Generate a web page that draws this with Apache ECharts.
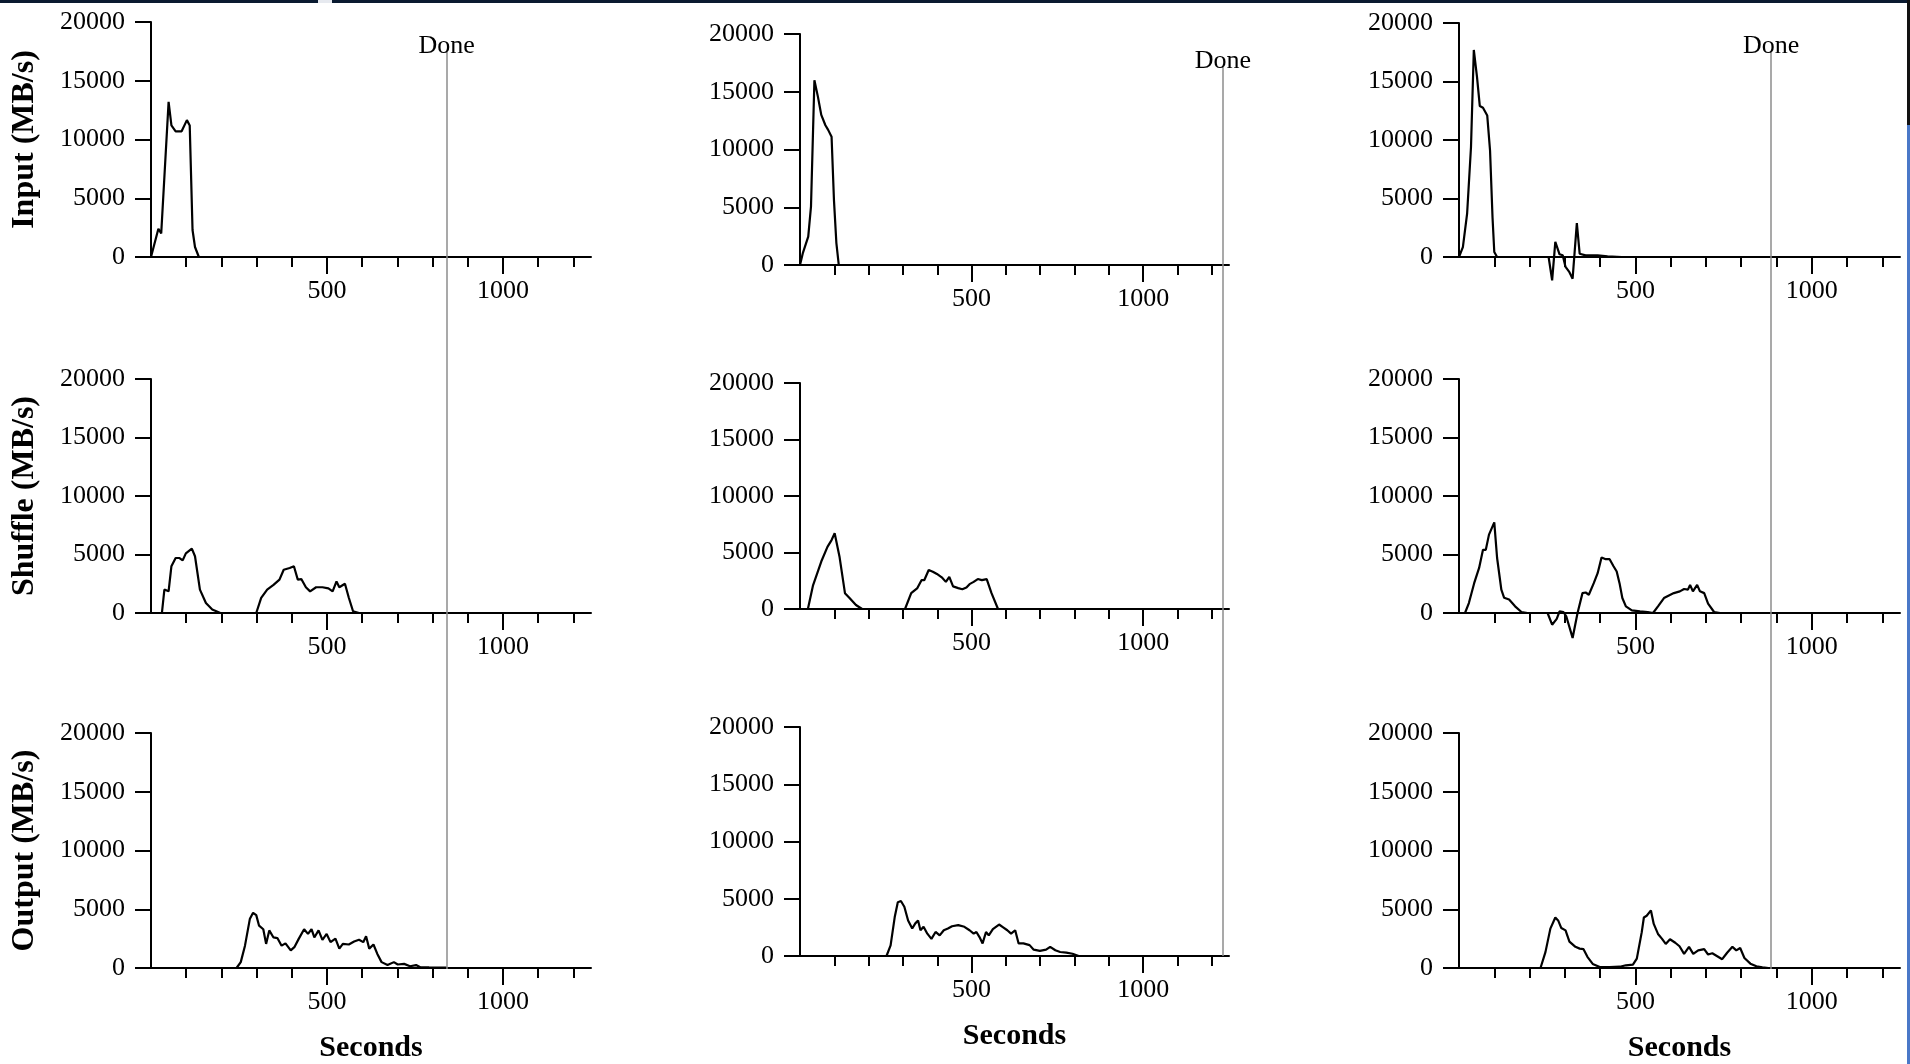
<!DOCTYPE html>
<html>
<head>
<meta charset="utf-8">
<title>Data transfer rates</title>
<script src="https://cdn.jsdelivr.net/npm/echarts@6/dist/echarts.min.js"></script>
<style>
html, body { margin: 0; padding: 0; background: #fff; }
#main { width: 1910px; height: 1064px; }
</style>
</head>
<body>
<div id="main"></div>
<script>
// seconds / MB/s pairs
var inputNormal = [[0,0],[21,2400],[29,2000],[50,13200],[58,11200],[70,10700],[87,10700],[102,11650],[110,11200],[118,2300],[125,850],[136,0],[840,0]];
var shuffleNormal = [[0,0],[31,0],[38,2000],[50,1850],[58,4000],[70,4700],[81,4700],[90,4500],[99,5100],[116,5500],[125,4850],[139,2000],[156,850],[174,300],[197,0],[299,0],[313,1300],[330,2000],[348,2400],[365,2850],[377,3700],[394,3850],[406,4000],[417,2850],[427,2900],[440,2200],[452,1850],[469,2200],[487,2200],[504,2100],[516,1850],[527,2700],[535,2200],[551,2500],[562,1300],[574,150],[591,0],[840,0]];
var outputNormal = [[0,0],[243,0],[255,500],[267,1900],[281,4200],[290,4700],[299,4500],[307,3600],[319,3300],[327,2050],[336,3200],[348,2600],[359,2550],[371,1900],[382,2100],[397,1500],[408,1800],[420,2500],[435,3300],[446,2900],[456,3300],[464,2600],[476,3200],[487,2400],[499,2900],[510,2200],[524,2500],[535,1650],[545,2050],[562,2000],[577,2250],[591,2400],[603,2200],[611,2700],[620,1650],[632,2000],[643,1200],[655,500],[672,250],[690,500],[701,300],[719,350],[736,150],[753,250],[765,60],[790,50],[840,40]];

var inputNoBackup = [[0,0],[8,1000],[24,2450],[32,5050],[42,16000],[52,14600],[62,13000],[74,12100],[82,11700],[92,11100],[99,5600],[106,1900],[113,0],[1232,0]];
var shuffleNoBackup = [[0,0],[23,0],[38,2100],[62,4200],[80,5500],[92,6100],[101,6700],[115,4650],[131,1400],[145,950],[163,350],[181,0],[306,0],[324,1400],[342,1850],[354,2550],[362,2550],[375,3450],[387,3300],[399,3100],[413,2800],[425,2400],[435,2850],[446,2000],[461,1850],[473,1750],[485,1900],[494,2200],[506,2400],[518,2650],[530,2550],[544,2650],[558,1400],[577,0],[1232,0]];
var outputNoBackup = [[0,0],[252,0],[264,930],[276,3400],[285,4700],[294,4800],[304,4300],[315,3100],[327,2400],[336,2850],[344,3100],[351,2250],[360,2550],[371,1950],[383,1500],[395,2100],[407,1800],[419,2250],[431,2400],[443,2600],[461,2700],[479,2550],[494,2250],[506,1950],[514,2100],[523,1650],[532,1100],[542,2100],[550,1800],[562,2350],[580,2750],[592,2500],[604,2250],[615,1950],[627,2250],[637,1100],[651,1100],[669,950],[681,550],[699,450],[717,550],[729,800],[744,500],[758,350],[776,300],[794,200],[812,0],[1232,0]];

var inputKilled = [[0,0],[11,850],[23,3700],[34,9400],[42,17700],[51,15400],[59,12900],[68,12750],[80,12100],[88,9100],[95,3400],[100,430],[108,0],[254,0],[264,-2000],[273,1300],[285,230],[294,150],[302,-850],[313,-1300],[322,-1850],[334,2900],[342,280],[359,140],[393,140],[421,60],[461,0],[885,0]];
var shuffleKilled = [[0,0],[17,0],[28,850],[43,2550],[57,3850],[68,5400],[76,5400],[85,6700],[100,7750],[108,4700],[120,2000],[128,1300],[142,1150],[159,570],[177,85],[194,0],[251,0],[264,-1000],[277,-500],[285,140],[296,85],[304,-280],[322,-2130],[336,0],[350,1700],[359,1750],[368,1560],[382,2550],[393,3400],[404,4750],[416,4600],[427,4600],[438,4000],[447,3550],[455,2550],[463,1280],[473,570],[490,230],[513,140],[535,85],[550,0],[564,570],[581,1280],[595,1500],[609,1700],[626,1850],[638,2050],[649,2000],[655,2400],[663,1850],[675,2400],[683,1850],[695,1700],[706,800],[723,85],[740,0],[885,0]];
var outputKilled = [[0,0],[231,0],[245,1350],[259,3350],[273,4300],[281,4050],[290,3400],[302,3200],[313,2250],[330,1800],[342,1650],[353,1600],[364,950],[379,350],[399,85],[427,85],[456,110],[473,230],[493,280],[504,800],[518,3050],[524,4300],[532,4450],[544,4900],[552,3750],[564,2900],[575,2500],[586,2050],[598,2450],[613,2150],[625,1850],[638,1200],[652,1800],[664,1200],[678,1500],[695,1600],[706,1150],[718,1250],[732,1000],[746,750],[760,1300],[775,1800],[786,1500],[797,1700],[809,850],[826,370],[843,140],[860,60],[877,0]];

var doneTimes = [840, 1232, 885];
var rowNames = ['Input (MB/s)', 'Shuffle (MB/s)', 'Output (MB/s)'];
var minorTicks = [100, 200, 300, 400, 600, 700, 800, 900, 1100, 1200];
var majorTicks = [500, 1000];

var columns = [
    [inputNormal, shuffleNormal, outputNormal],
    [inputNoBackup, shuffleNoBackup, outputNoBackup],
    [inputKilled, shuffleKilled, outputKilled]
];

// layout (px)
var colLeft = [151, 800, 1459];
var colWidth = [440, 429, 441];
var cellTop = [[22, 379, 733], [34, 383, 727], [23, 379, 733]];
var cellZero = [[257, 613, 969], [265, 609, 956], [257, 613, 969]];
var doneTop = [52, 67, 52];

var serif = '"Liberation Serif", "DejaVu Serif", serif';
var plain = function (v) { return String(v); };

var myChart = echarts.init(document.getElementById('main'));
var grid = [], xAxis = [], yAxis = [], series = [];

for (var c = 0; c < 3; c++) {
    for (var r = 0; r < 3; r++) {
        var g = grid.length;
        grid.push({
            left: colLeft[c], width: colWidth[c],
            top: cellTop[c][r], height: cellZero[c][r] - cellTop[c][r],
            containLabel: false
        });
        xAxis.push({
            type: 'value', gridIndex: g, min: 0, max: 1250, position: 'bottom',
            name: r === 2 ? 'Seconds' : '',
            nameLocation: 'middle', nameGap: 65,
            nameTextStyle: {fontFamily: serif, fontWeight: 'bold', fontSize: 30, color: '#000'},
            axisLine: {show: true, onZero: false, lineStyle: {color: '#000', width: 2}},
            axisTick: {show: true, customValues: minorTicks, length: 10, lineStyle: {color: '#000', width: 2}},
            axisLabel: {show: true, customValues: majorTicks, formatter: plain, margin: 21, fontFamily: serif, fontSize: 26, color: '#000'},
            splitLine: {show: false}
        });
        xAxis.push({
            type: 'value', gridIndex: g, min: 0, max: 1250, position: 'bottom',
            axisLine: {show: false, onZero: false},
            axisTick: {show: true, customValues: majorTicks, length: 17, lineStyle: {color: '#000', width: 2}},
            axisLabel: {show: false},
            splitLine: {show: false}
        });
        yAxis.push({
            type: 'value', gridIndex: g, min: 0, max: 20000, interval: 5000,
            name: c === 0 ? rowNames[r] : '',
            nameLocation: 'middle', nameRotate: 90, nameGap: 110,
            nameTextStyle: {fontFamily: serif, fontWeight: 'bold', fontSize: 32, color: '#000'},
            axisLine: {show: true, onZero: false, lineStyle: {color: '#000', width: 2}},
            axisTick: {show: true, length: 16, lineStyle: {color: '#000', width: 2}},
            axisLabel: {margin: 26, formatter: plain, fontFamily: serif, fontSize: 26, color: '#000'},
            splitLine: {show: false}
        });
        series.push({
            type: 'line',
            xAxisIndex: 2 * g, yAxisIndex: g,
            data: columns[c][r],
            symbol: 'none', showSymbol: false,
            clip: false, silent: true,
            lineStyle: {color: '#000', width: 2.2}
        });
    }
}

// "Done" lines run through the whole column
for (var k = 0; k < 3; k++) {
    var gi = grid.length;
    grid.push({
        left: colLeft[k], width: colWidth[k],
        top: doneTop[k], height: cellZero[k][2] - doneTop[k],
        containLabel: false
    });
    xAxis.push({type: 'value', gridIndex: gi, min: 0, max: 1250, show: false});
    yAxis.push({type: 'value', gridIndex: gi, min: 0, max: 1, show: false});
    series.push({
        type: 'line',
        xAxisIndex: xAxis.length - 1, yAxisIndex: yAxis.length - 1,
        data: [],
        silent: true,
        markLine: {
            symbol: ['none', 'none'],
            silent: true,
            animation: false,
            lineStyle: {color: '#8c8c8c', width: 1.5, type: 'solid'},
            label: {
                show: true, formatter: 'Done', position: 'end', distance: -7,
                fontFamily: serif, fontSize: 26, color: '#000'
            },
            data: [{xAxis: doneTimes[k]}]
        }
    });
}

var option = {
    backgroundColor: '#fff',
    animation: false,
    grid: grid,
    xAxis: xAxis,
    yAxis: yAxis,
    series: series,
    graphic: [
        {type: 'rect', left: 0, top: 0, shape: {width: 1910, height: 3}, style: {fill: '#0a1a30'}, silent: true},
        {type: 'rect', left: 318, top: 0, shape: {width: 14, height: 3}, style: {fill: '#e6e9ef'}, silent: true},
        {type: 'rect', left: 1907, top: 0, shape: {width: 3, height: 125}, style: {fill: '#111'}, silent: true},
        {type: 'rect', left: 1907, top: 125, shape: {width: 3, height: 939}, style: {fill: '#4a78c8'}, silent: true}
    ]
};
myChart.setOption(option);
</script>
</body>
</html>
